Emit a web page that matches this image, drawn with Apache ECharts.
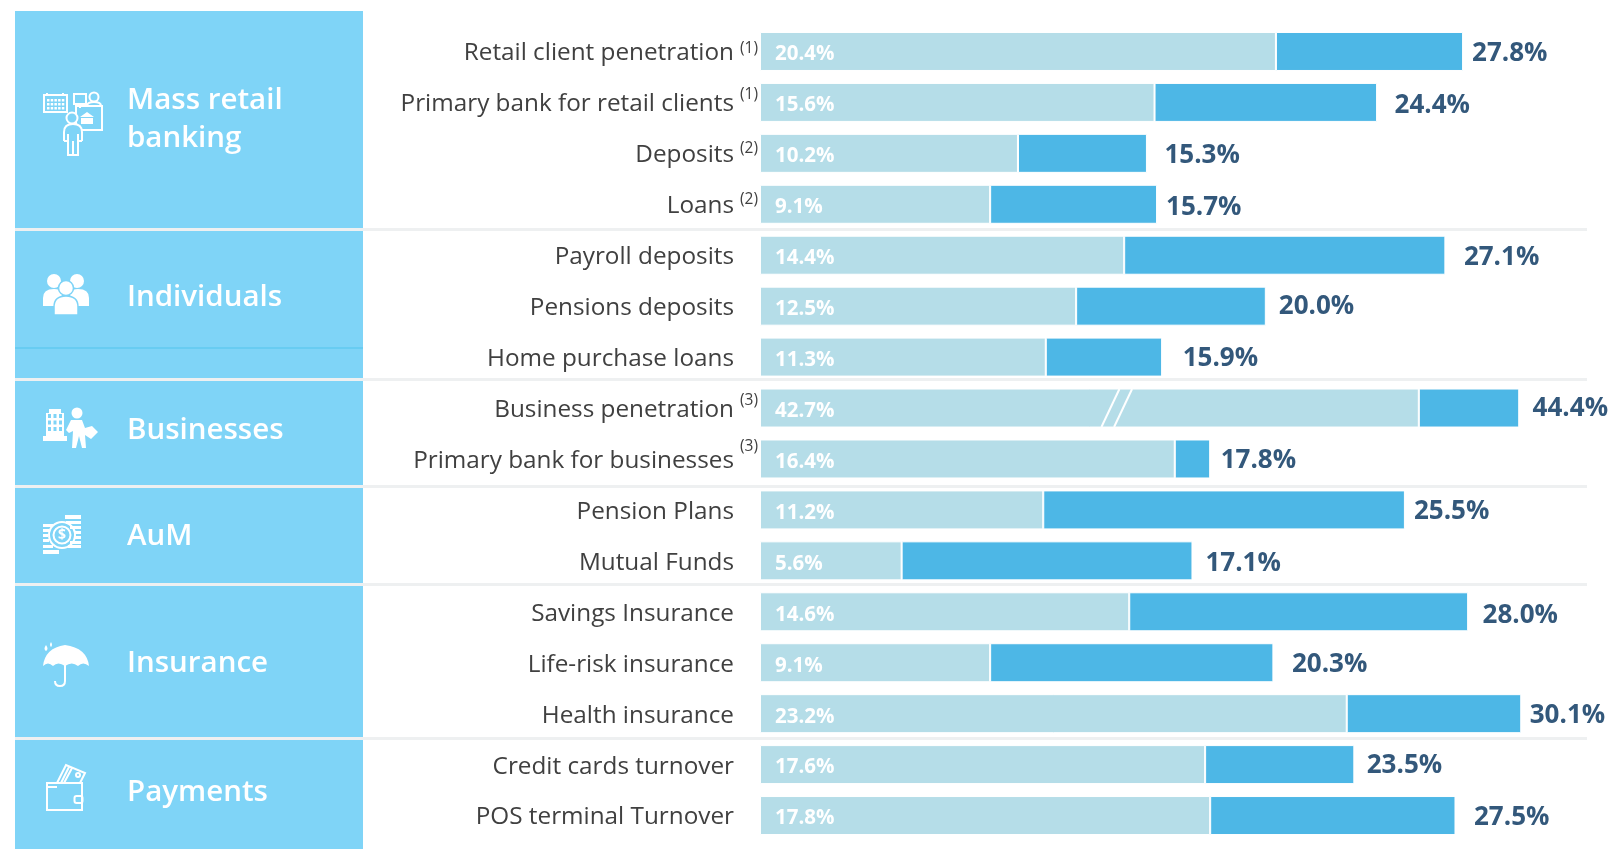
<!DOCTYPE html>
<html><head><meta charset="utf-8">
<style>html,body{margin:0;padding:0;background:#fff}#c{width:1611px;height:849px}</style>
<script src="https://cdn.jsdelivr.net/npm/echarts@6/dist/echarts.min.js"></script>
</head><body><div id="c"></div>
<script>
// ---- data ----
const categories = ['Retail client penetration','Primary bank for retail clients','Deposits','Loans','Payroll deposits','Pensions deposits','Home purchase loans','Business penetration','Primary bank for businesses','Pension Plans','Mutual Funds','Savings Insurance','Life-risk insurance','Health insurance','Credit cards turnover','POS terminal Turnover'];
const footnotes = ['(1)','(1)','(2)','(2)','','','','(3)','(3)','','','','','','',''];
const baseValues = [20.4,15.6,10.2,9.1,14.4,12.5,11.3,42.7,16.4,11.2,5.6,14.6,9.1,23.2,17.6,17.8];
const totalValues = [27.8,24.4,15.3,15.7,27.1,20.0,15.9,44.4,17.8,25.5,17.1,28.0,20.3,30.1,23.5,27.5];
// the "Business penetration" bar is drawn with a broken (shortened) scale in the source
const brokenIndex = 7;
const brokenDrawnBase = 26.05;
const brokenDrawnTotal = 30.02;
const breakMarkValues = [13.5, 14.0];
const sections = ['Mass retail\nbanking','Individuals','Businesses','AuM','Insurance','Payments'];

// ---- style / layout (not data) ----
const gapAfterBar = [9,17.5,17.5,9,18.5,13,20.6,13.4,10.5,9,13,14.4,18.5,8.5,12.4,18.5];
const valueLabelDrop = [2,3,2,3,2,0,1,1,2,2,3,4,2,2,1,2];
const supRaise = [2.5,8,5,5,0,0,0,7,12,0,0,0,0,0,0,0];
const drawnBase = baseValues.map((v,i)=> i===brokenIndex ? brokenDrawnBase : v);
const drawnTotal = totalValues.map((v,i)=> i===brokenIndex ? brokenDrawnTotal : v);
const drawnDelta = drawnTotal.map((v,i)=> +(v-drawnBase[i]).toFixed(2));

const PANEL='#7fd4f7', FONT='"Open Sans","Noto Sans",sans-serif';
const panelY=[[11,228],[231,378],[381,485],[488,583],[586,737],[740,849]];
const textY=[[101,139],[298],[431],[537],[664],[793]];
const gfx=[];
panelY.forEach((p,i)=>{
  gfx.push({type:'rect',silent:true,z:0,shape:{x:15,y:p[0],width:348,height:p[1]-p[0]},style:{fill:PANEL}});
  if(i<5) gfx.push({type:'rect',silent:true,z:0,shape:{x:15,y:p[1],width:1572,height:3},style:{fill:'#eef0f1'}});
  sections[i].split('\n').forEach((t,j)=>gfx.push({type:'text',silent:true,z:5,style:{text:t,x:127,y:textY[i][j],fill:'#fff',font:'600 29.5px '+FONT,verticalAlign:'middle'}}));
});
gfx.push({type:'rect',silent:true,z:1,shape:{x:15,y:347.5,width:348,height:1},style:{fill:'#52c4ee'}});
// ---- icons (decoration) ----
const W='#fff';
const icons=[];
const s=(x,y,w,h,r)=>icons.push({type:'rect',shape:{x,y,width:w,height:h,r:r||0},style:{fill:'none',stroke:W,lineWidth:2}});
const f=(x,y,w,h,col)=>icons.push({type:'rect',shape:{x,y,width:w,height:h},style:{fill:col||W}});
const c=(x,y,r,fill)=>icons.push({type:'circle',shape:{cx:x,cy:y,r},style:fill?{fill:W}:{fill:'none',stroke:W,lineWidth:2}});
const p=(d,fill)=>icons.push({type:'path',shape:{pathData:d},style:fill?{fill:W}:{fill:'none',stroke:W,lineWidth:2}});
const ol=(t)=>icons.push(Object.assign({},t,{style:{fill:W,stroke:PANEL,lineWidth:1.5}}));
// banking
s(44,95,23,17);
for(let r=0;r<3;r++)for(let k=0;k<5;k++)f(47+k*3.7,99+r*4,2.5,2.5);
p('M47 95v-2 M63 95v-2');
s(74,94,12,10);p('M80 104v4');c(94,97,4.5);p('M87 106q0-4 7-4q7 0 7 4');s(76,106,26,24);
p('M80 117 l7-5 l7 5 z M81 118h12v6h-12z',true);
icons.push({type:'path',shape:{pathData:'M64 141 V132 Q64 124 73 124 Q82 124 82 132 V141 H78 V155 H68 V141Z'},style:{fill:PANEL}});
icons.push({type:'circle',shape:{cx:72,cy:118,r:5.5},style:{fill:PANEL,stroke:W,lineWidth:2}});
p('M64 141 V132 Q64 124 73 124 Q82 124 82 132 V141 M68 134 V155 H78 V134 M73 141 V155 M64 141 H68 M78 141 H82');
// people
c(54,281,7,true);c(77,281,7,true);
p('M43 306 V298 Q43 289 54 289 Q60 289 63 293 L56 306Z',true);p('M89 306 V298 Q89 289 78 289 Q72 289 69 293 L76 306Z',true);
ol({type:'circle',shape:{cx:66,cy:288,r:7.5}});
ol({type:'path',shape:{pathData:'M54 315 V307 Q54 296 66 296 Q78 296 78 307 V315Z'}});
// businesses
p('M43 441 V436 h3 V413 h3 v-4 h12 v4 h3 V436 h3 V441 Z',true);
for(let r=0;r<3;r++)for(let k=0;k<3;k++)f(48+k*5.5,414+r*6.5,3,4,PANEL);
c(77,413,5.5,true);
p('M71 420 h11 l3 8 l7-2 l6 6 l-7 7 l-6-4 l1 13 h-4 l-3-12 l-3 12 h-4 l1-17 l-4 2 l-3-3 Z',true);
// coins
p('M65 515h16v4h-16zM66 521h15v3h-15zM70 526h11v3h-11zM74 531h7v3h-7zM74 536h7v3h-7zM70 541h11v3h-11zM68 545h13v3h-13zM43 524h10v3h-10zM43 529h6v3h-6zM43 534h5v3h-5zM43 539h6v3h-6zM43 545h10v3h-10zM43 550h16v4h-16z',true);
c(62,535,13);c(62,535,8.5);
icons.push({type:'text',style:{text:'$',x:62,y:535,fill:W,font:'bold 14px '+FONT,align:'center',verticalAlign:'middle'}});
// umbrella
p('M43 666 Q45 648 65 645 Q87 648 89 666 Q83 661 78 666 Q72 661 65 666 Q58 661 53 666 Q48 661 43 666Z',true);
p('M65 665 V681 Q65 686 60 686 Q55 686 55 681');
p('M46 645 q-3 4 0 6 q3-2 0-6z',true);p('M51 642 q-2 3 0 5 q2-2 0-5z',true);
// wallet
s(47,783,35,27);p('M47 787h10');s(74.5,796,8,7,2);
p('M57 783 L66 765 L85 773 L80 783 M61 783 L69 767 M64 783 L72 768');c(78,775,2);

const chart=echarts.init(document.getElementById('c'),null,{renderer:'canvas'});
chart.setOption({
  animation:false,
  backgroundColor:'#fff',
  graphic:{elements:gfx},
  grid:{left:760,top:26,width:809.3,height:815,containLabel:false},
  xAxis:{type:'value',min:0,max:32,show:false},
  yAxis:{type:'category',inverse:true,data:categories,axisLine:{show:false},axisTick:{show:false},
    axisLabel:{color:'#404040',fontSize:24.3,fontFamily:FONT,margin:26,align:'right',interval:0,verticalAlign:'top',lineHeight:4}},
  series:[
   {type:'bar',stack:'a',barWidth:39,data:drawnBase,itemStyle:{color:'#b5dde8',borderColor:'#fff',borderWidth:1},
    label:{show:true,position:'insideLeft',distance:15,offset:[0,3],color:'#fff',fontSize:20.5,fontWeight:700,fontFamily:FONT,formatter:o=>baseValues[o.dataIndex].toFixed(1)+'%'}},
   {type:'bar',stack:'a',barWidth:39,data:drawnDelta.map((v,i)=>({value:v,label:{distance:gapAfterBar[i],offset:[0,valueLabelDrop[i]]}})),itemStyle:{color:'#4db7e6',borderColor:'#fff',borderWidth:1},
    label:{show:true,position:'right',color:'#33587b',fontSize:26,fontWeight:700,fontFamily:FONT,formatter:o=>totalValues[o.dataIndex].toFixed(1)+'%'}},
   {type:'custom',z:5,silent:true,data:breakMarkValues.map(v=>[v,brokenIndex]),encode:{x:0,y:1},clip:false,
    renderItem:(params,api)=>{const pt=api.coord([api.value(0),api.value(1)]);return {type:'line',shape:{x1:pt[0],y1:pt[1]+19,x2:pt[0]+18,y2:pt[1]-19},style:{stroke:'#fff',lineWidth:2}};}},
   {type:'custom',z:5,silent:true,clip:false,encode:{x:0,y:1},
    data:footnotes.map((t,i)=>[0,i]).filter(d=>footnotes[d[1]]),
    renderItem:(params,api)=>{const i=api.value(1),pt=api.coord([0,i]);return {type:'text',style:{text:footnotes[i],x:pt[0]-2,y:pt[1]-supRaise[i],fill:'#404040',font:'15.5px '+FONT,align:'right',verticalAlign:'middle'}};}},
   {type:'custom',coordinateSystem:'none',z:6,silent:true,data:[[0]],
    renderItem:()=>({type:'group',children:icons})}
  ]
});
</script></body></html>
